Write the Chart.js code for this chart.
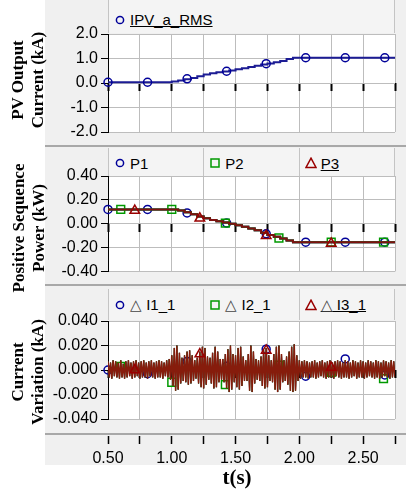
<!DOCTYPE html>
<html>
<head>
<meta charset="utf-8">
<script src="https://cdn.jsdelivr.net/npm/chart.js@4/dist/chart.umd.min.js"></script>
<style>
  html, body { margin: 0; padding: 0; background: #fff; }
  #wrap { position: relative; width: 406px; height: 491px; overflow: hidden; font-family: 'Liberation Sans', Arial, sans-serif; }
  .panel { position: absolute; left: 45px; top: 0; width: 361px; height: 465px; background: #f0f0f0; }
  .sep { position: absolute; left: 45px; width: 361px; height: 2px; background: #a8a8a8; }
  canvas { position: absolute; left: 45px; }
  .legend { position: absolute; left: 108px; width: 287px; display: flex; }
  .cell { flex: 1; box-sizing: border-box; border-left: 1px solid #c4c4c4; background: #f4f4f4;
          display: flex; align-items: center; padding-left: 5px; font-size: 15px; color: #000; white-space: nowrap; }
  .cell:last-child { border-right: 1px solid #c4c4c4; }
  .cell svg { margin-right: 4px; flex: none; }
  .u { text-decoration: underline; }
  .delta { color: #444; }
  .ytitle { position: absolute; width: 160px; height: 38px; line-height: 19px; text-align: center;
            font: bold 17px 'Liberation Serif', 'Times New Roman', serif; transform: rotate(-90deg); }
  .xtitle { position: absolute; left: 197px; top: 465px; width: 80px; text-align: center;
            font: bold 21px 'Liberation Serif', 'Times New Roman', serif; }
</style>
</head>
<body>
<div id="wrap">
  <div class="panel"></div>
  <div class="sep" style="top:145px"></div>
  <div class="sep" style="top:284px"></div>
  <div class="sep" style="top:433px"></div>

  <canvas id="c1" width="361" height="145" style="top:0px"></canvas>
  <canvas id="c2" width="361" height="139" style="top:145px"></canvas>
  <canvas id="c3" width="361" height="149" style="top:284px"></canvas>
  <canvas id="c4" width="361" height="33" style="top:433px"></canvas>

  <div class="ytitle" style="left:-53px; top:61px">PV Output<br>Current (kA)</div>
  <div class="ytitle" style="left:-52px; top:209px">Positive Sequence<br>Power (kW)</div>
  <div class="ytitle" style="left:-53px; top:353px">Current<br>Variation (kA)</div>
  <div class="xtitle">t(s)</div>
</div>

<script>
// --- dados ---

// painel 1: corrente de saída PV (kA)
const ipvT = [0.5, 0.95, 1.0, 1.05, 1.1, 1.15, 1.2, 1.25, 1.3, 1.35, 1.4, 1.45, 1.5, 1.55, 1.6, 1.65, 1.7, 1.75, 1.8, 1.85, 1.9, 1.95, 2.75];
const ipvA = [0.03, 0.03, 0.06, 0.1, 0.15, 0.2, 0.28, 0.35, 0.4, 0.44, 0.47, 0.51, 0.56, 0.6, 0.65, 0.7, 0.76, 0.8, 0.85, 0.9, 0.98, 1.03, 1.03];
const ipvMarkT = [0.5, 0.81, 1.12, 1.43, 1.74, 2.05, 2.36, 2.67];
const ipvMarkA = [0.03, 0.03, 0.17, 0.48, 0.79, 1.03, 1.03, 1.03];

// painel 2: potência de sequência positiva (P1, P2 e P3 praticamente sobrepostas)
const pT = [0.5, 1.0, 1.05, 1.1, 1.15, 1.2, 1.25, 1.3, 1.35, 1.4, 1.45, 1.5, 1.55, 1.6, 1.65, 1.7, 1.75, 1.8, 1.85, 1.9, 1.95, 2.75];
const p1 = [0.12, 0.12, 0.11, 0.095, 0.08, 0.06, 0.045, 0.03, 0.02, 0.01, 0.0, -0.012, -0.025, -0.04, -0.055, -0.075, -0.095, -0.11, -0.125, -0.14, -0.155, -0.155];
const p2 = [0.12, 0.12, 0.11, 0.095, 0.08, 0.06, 0.045, 0.03, 0.02, 0.01, 0.0, -0.012, -0.025, -0.04, -0.055, -0.075, -0.095, -0.11, -0.125, -0.14, -0.155, -0.155];
const p3 = [0.12, 0.12, 0.11, 0.095, 0.08, 0.06, 0.045, 0.03, 0.02, 0.01, 0.0, -0.012, -0.025, -0.04, -0.055, -0.075, -0.095, -0.11, -0.125, -0.14, -0.155, -0.155];
const p1MarkT = [0.5, 0.81, 1.12, 1.43, 1.74, 2.05, 2.36, 2.67];
const p1MarkV = [0.12, 0.12, 0.09, 0.005, -0.085, -0.155, -0.155, -0.155];
const p2MarkT = [0.6, 1.0, 1.42, 1.84, 2.25, 2.66];
const p2MarkV = [0.12, 0.12, 0.005, -0.12, -0.155, -0.155];
const p3MarkT = [0.71, 1.22, 1.74, 2.25];
const p3MarkV = [0.11, 0.045, -0.1, -0.165];

// painel 3: variação de corrente (kA), amostras a cada 0.01 s a partir de 0.50 s
const dIStart = 0.5;
const dIStep = 0.01;
const dI = [
  0.007, -0.006, 0.006, -0.007, 0.008, -0.005, 0.007, -0.006, 0.006, -0.007,
  0.008, -0.006, 0.005, -0.007, 0.007, -0.006, 0.008, -0.005, 0.006, -0.007,
  0.007, -0.006, 0.008, -0.005, 0.006, -0.007, 0.007, -0.006, 0.008, -0.006,
  0.006, -0.007, 0.007, -0.005, 0.008, -0.006, 0.006, -0.007, 0.007, -0.006,
  0.008, -0.006, 0.007, -0.007, 0.006, -0.005, 0.008, -0.006, 0.009, -0.008,
  0.012, -0.013, 0.018, -0.017, 0.020, -0.016, 0.014, -0.011, 0.010, -0.009,
  0.012, -0.010, 0.015, -0.012, 0.016, -0.011, 0.012, -0.009, 0.008, -0.007,
  0.010, -0.011, 0.015, -0.014, 0.019, -0.015, 0.018, -0.012, 0.011, -0.008,
  0.010, -0.011, 0.014, -0.015, 0.019, -0.014, 0.015, -0.010, 0.009, -0.008,
  0.009, -0.010, 0.013, -0.015, 0.017, -0.018, 0.020, -0.016, 0.013, -0.010,
  0.012, -0.014, 0.018, -0.016, 0.019, -0.013, 0.011, -0.009, 0.008, -0.009,
  0.013, -0.017, 0.020, -0.018, 0.015, -0.011, 0.009, -0.008, 0.008, -0.009,
  0.011, -0.013, 0.016, -0.015, 0.018, -0.014, 0.012, -0.009, 0.008, -0.010,
  0.013, -0.016, 0.019, -0.018, 0.020, -0.016, 0.013, -0.010, 0.008, -0.009,
  0.011, -0.012, 0.015, -0.017, 0.019, -0.018, 0.021, -0.017, 0.012, -0.009,
  0.008, -0.007, 0.007, -0.006, 0.008, -0.006, 0.007, -0.007, 0.006, -0.006,
  0.007, -0.006, 0.008, -0.007, 0.006, -0.006, 0.007, -0.005, 0.008, -0.006,
  0.006, -0.007, 0.007, -0.006, 0.008, -0.006, 0.006, -0.007, 0.007, -0.005,
  0.008, -0.006, 0.007, -0.007, 0.006, -0.006, 0.008, -0.006, 0.007, -0.007,
  0.006, -0.006, 0.008, -0.005, 0.007, -0.007, 0.006, -0.006, 0.008, -0.006,
  0.007, -0.007, 0.006, -0.006, 0.008, -0.005, 0.007, -0.006, 0.006, -0.007,
  0.008, -0.006, 0.007, -0.007, 0.006, -0.006, 0.008, -0.005, 0.007, -0.006,
  0.006, -0.007, 0.008, -0.006, 0.007, -0.006
];
const i1MarkT = [0.5, 0.81, 1.12, 1.43, 1.74, 2.05, 2.36, 2.67];
const i1MarkV = [0.0, -0.003, 0.007, 0.003, 0.017, -0.005, 0.009, -0.004];
const i2MarkT = [0.6, 1.0, 1.42, 1.84, 2.25, 2.66];
const i2MarkV = [0.003, -0.01, -0.012, 0.004, -0.002, -0.007];
const i3MarkT = [0.71, 1.22, 1.74, 2.25];
const i3MarkV = [0.0, 0.013, 0.016, 0.002];

// eixo de tempo
const tMin = 0.5;
const tMax = 2.75;
const tStep = 0.25;

// --- cores ---
const BLUE = '#000099';
const GREEN = '#009900';
const RED = '#990000';
const GRID = '#bdbdbd';

Chart.defaults.font.family = "'Liberation Sans', Arial, sans-serif";
Chart.defaults.font.size = 16;
Chart.defaults.color = '#000';

// fundo branco só na área de plotagem
const plotBg = {
  id: 'plotBg',
  beforeDraw(chart) {
    const { ctx, chartArea: a } = chart;
    ctx.save();
    ctx.fillStyle = '#fff';
    ctx.fillRect(a.left, a.top, a.right - a.left, a.bottom - a.top);
    ctx.restore();
  }
};

const pts = (xs, ys) => xs.map((x, i) => ({ x, y: ys[i] }));

function lineSet(label, xs, ys, color, width, order, stepped) {
  return {
    label, data: pts(xs, ys), borderColor: color, borderWidth: width,
    pointRadius: 0, stepped, tension: 0, order
  };
}

function markerSet(label, xs, ys, style, color, order) {
  return {
    label, data: pts(xs, ys), showLine: false, pointStyle: style,
    pointRadius: style === 'circle' ? 4 : 5.5, pointBorderWidth: 1.5,
    pointBorderColor: color, pointBackgroundColor: 'rgba(0,0,0,0)',
    clip: false, order
  };
}

function panelOptions(yMin, yMax, yStep, digits, padTop, padBottom) {
  return {
    responsive: false,
    animation: false,
    layout: { padding: { top: padTop, bottom: padBottom, left: 0, right: 11 } },
    plugins: { legend: { display: false }, tooltip: { enabled: false } },
    scales: {
      x: {
        type: 'linear', min: tMin, max: tMax,
        position: { y: 0 }, // marcas pretas sobre a linha do zero
        ticks: { stepSize: tStep, display: false },
        grid: { color: GRID, lineWidth: 1, tickColor: '#000', tickWidth: 2, tickLength: 8 },
        border: { display: false }
      },
      y: {
        min: yMin, max: yMax,
        ticks: { stepSize: yStep, padding: 3, callback: v => v.toFixed(digits) },
        grid: { color: GRID, lineWidth: 1, tickColor: '#000', tickLength: 7 },
        border: { color: '#000', width: 1 },
        afterFit: s => { s.width = 63; }
      }
    }
  };
}

// --- painel 1 ---
new Chart(document.getElementById('c1'), {
  type: 'line',
  data: {
    datasets: [
      markerSet('IPV_a_RMS', ipvMarkT, ipvMarkA, 'circle', BLUE, 1),
      lineSet('IPV_a_RMS', ipvT, ipvA, '#1c1c94', 2, 2, true)
    ]
  },
  options: panelOptions(-2, 2, 1, 1, 34, 13),
  plugins: [plotBg]
});

// --- painel 2 ---
new Chart(document.getElementById('c2'), {
  type: 'line',
  data: {
    datasets: [
      markerSet('P3', p3MarkT, p3MarkV, 'triangle', RED, 1),
      lineSet('P3', pT, p3, '#7f1010', 2, 2, true),
      markerSet('P2', p2MarkT, p2MarkV, 'rect', GREEN, 3),
      lineSet('P2', pT, p2, GREEN, 2, 4, true),
      markerSet('P1', p1MarkT, p1MarkV, 'circle', BLUE, 5),
      lineSet('P1', pT, p1, BLUE, 2, 6, true)
    ]
  },
  options: panelOptions(-0.4, 0.4, 0.2, 2, 31, 8),
  plugins: [plotBg]
});

// --- painel 3 ---
const dIT = dI.map((_, i) => dIStart + i * dIStep);
new Chart(document.getElementById('c3'), {
  type: 'line',
  data: {
    datasets: [
      markerSet('I3_1', i3MarkT, i3MarkV, 'triangle', RED, 1),
      lineSet('I3_1', dIT, dI, '#861c0c', 1.5, 2, false),
      markerSet('I2_1', i2MarkT, i2MarkV, 'rect', GREEN, 3),
      lineSet('I2_1', dIT, dI, GREEN, 0.8, 4, false),
      markerSet('I1_1', i1MarkT, i1MarkV, 'circle', BLUE, 5),
      lineSet('I1_1', dIT, dI, BLUE, 0.8, 6, false)
    ]
  },
  options: panelOptions(-0.04, 0.04, 0.02, 3, 37, 14),
  plugins: [plotBg]
});

// --- faixa do eixo do tempo ---
new Chart(document.getElementById('c4'), {
  type: 'line',
  data: { datasets: [] },
  options: {
    responsive: false,
    animation: false,
    layout: { padding: { top: 0, bottom: 0, left: 63, right: 11 } },
    plugins: { legend: { display: false }, tooltip: { enabled: false } },
    scales: {
      x: {
        type: 'linear', min: tMin, max: tMax, position: 'bottom',
        ticks: {
          stepSize: tStep, autoSkip: false, maxRotation: 0, padding: 5,
          callback: v => (Math.abs(v * 2 - Math.round(v * 2)) < 1e-6 ? v.toFixed(2) : '')
        },
        grid: { drawOnChartArea: false, tickColor: '#000', tickWidth: 1.5, tickLength: 8 },
        border: { display: false },
        afterFit: s => { s.height = 30; }
      },
      y: { display: false }
    }
  }
});

// --- legendas (células no topo de cada painel) ---
function markerSvg(shape, color) {
  let g = '';
  if (shape === 'circle') g = `<circle cx="6" cy="6" r="3.6" fill="none" stroke="${color}" stroke-width="1.5"/>`;
  if (shape === 'rect') g = `<rect x="2" y="2" width="8" height="8" fill="none" stroke="${color}" stroke-width="1.5"/>`;
  if (shape === 'triangle') g = `<polygon points="6,1.2 11,10.5 1,10.5" fill="none" stroke="${color}" stroke-width="1.5"/>`;
  return `<svg width="12" height="12" viewBox="0 0 12 12">${g}</svg>`;
}

function legendRow(top, height, padTop, items) {
  const row = document.createElement('div');
  row.className = 'legend';
  row.style.top = top + 'px';
  row.style.height = height + 'px';
  items.forEach((it, i) => {
    const cell = document.createElement('div');
    cell.className = 'cell';
    cell.style.paddingTop = padTop + 'px';
    const delta = it.delta ? '<span class="delta">△</span> ' : '';
    cell.innerHTML = markerSvg(it.shape, it.color) +
      `<span class="${i === items.length - 1 ? 'u' : ''}">${delta}${it.label}</span>`;
    row.appendChild(cell);
  });
  document.getElementById('wrap').appendChild(row);
}

legendRow(0, 33, 6, [
  { label: 'IPV_a_RMS', shape: 'circle', color: BLUE }
]);
legendRow(148, 28, 2, [
  { label: 'P1', shape: 'circle', color: BLUE },
  { label: 'P2', shape: 'rect', color: GREEN },
  { label: 'P3', shape: 'triangle', color: RED }
]);
legendRow(289, 31, 0, [
  { label: 'I1_1', shape: 'circle', color: BLUE, delta: true },
  { label: 'I2_1', shape: 'rect', color: GREEN, delta: true },
  { label: 'I3_1', shape: 'triangle', color: RED, delta: true }
]);
</script>
</body>
</html>
